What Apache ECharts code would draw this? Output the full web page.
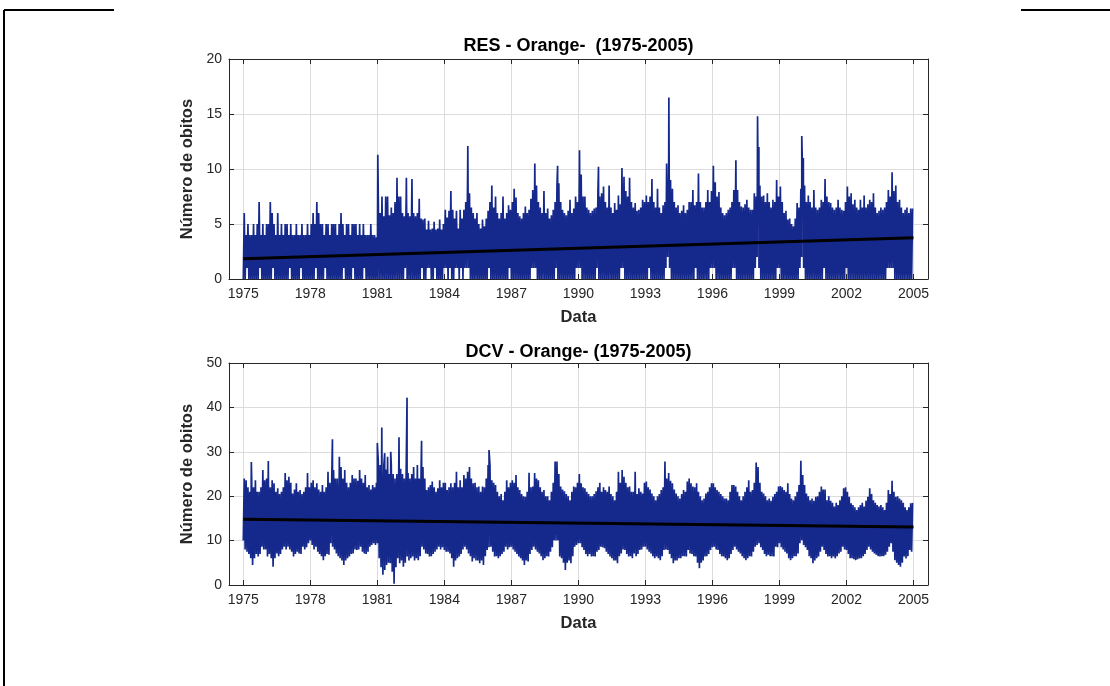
<!DOCTYPE html>
<html>
<head>
<meta charset="utf-8">
<title>RES / DCV - Orange (1975-2005)</title>
<script src="https://cdn.jsdelivr.net/npm/echarts@6/dist/echarts.min.js"></script>
<style>
  html, body { margin: 0; padding: 0; background: #fff; }
  #main { width: 1110px; height: 686px; }
</style>
</head>
<body>
<div id="main"></div>
<script>
// Monthly envelopes (Jan..Dec, one row per year 1975-2004).
const startYear = 1975;
const yearTicks = [1975, 1978, 1981, 1984, 1987, 1990, 1993, 1996, 1999, 2002, 2005];

const resHigh = [
  6,4,5,4,4,5,4,5,7,4,5,4,
  5,5,7,6,5,4,6,4,5,4,5,5,
  4,5,4,4,5,4,4,5,4,4,5,4,
  5,6,5,7,6,5,5,4,5,5,4,5,
  5,5,4,5,6,5,4,5,5,4,5,5,
  5,4,5,4,5,4,4,4,5,4,4,3.8,
  7.6,6,7.5,5.7,7.5,7.5,5.8,6.5,6,7,7.5,7.5,
  7.5,6,5.7,7.5,6,5.7,7.5,6,5.7,6,7.3,5.5,
  5.4,5.5,4.5,5.3,4.5,4.6,5.2,4.5,4.6,5.4,4.5,5,
  6.3,5.6,6.2,8,6.3,5.5,6.2,4.6,6.3,5.5,6.3,7,
  9.5,7.8,6.5,6,5.5,6,5,4.6,5.4,4.8,5.5,6.2,
  7,8.5,6.5,7.5,6,5.5,6,7.5,5.5,6,6.7,6.3,
  7,8.2,7.4,6,5.7,5.5,6,6.6,6,6.3,7.3,8.1,
  8.5,8.5,7,6.5,6,8,6,6.4,5.5,5.8,6.3,7,
  8.5,8.7,7,6.3,6,5.8,6.2,7.2,6,6.4,7.5,7,
  9,9.5,7.5,7.5,6.5,6.3,6,6.2,6.4,6.5,8,7.5,
  7.8,8.4,7,6.5,8.5,6.5,6,6.9,6.3,7.6,6.8,8.5,
  9.3,8,7.5,9.2,7,6.5,6.9,6.2,6.3,6.5,7.2,7,
  7.6,7,7.5,9.1,7,6.5,8.2,6.5,6,6.7,7,8.5,
  10.5,9,8.2,7,6.5,6.7,6,6.2,6.7,6,6.3,7,
  7,8.1,6.7,7,9.6,7,6.5,6.5,7,8.1,7,8,
  10.3,8.8,7.5,7.9,6.5,6,5.8,6,6.3,6.5,7,8.1,
  9,8.1,7,6.6,6.5,6.8,7.2,6.5,6.3,6.3,7.8,7.5,
  9.5,8.5,7.5,7.6,7,7.8,7,6.5,7.2,7,9,7.5,
  8.4,7,6,6.2,5.4,5.5,5,4.8,5.5,6.9,6.5,8.2,
  9,8.5,7,7.6,7,6.5,8.1,6.5,6.3,6.5,7.2,7,
  9.1,7.5,7,6.9,6.5,6.3,6.5,7.2,6.5,6.3,6.2,7,
  8.4,7.5,7.8,6.8,7.2,6.5,6.3,7.2,6.5,7.6,6.5,6.8,
  7.2,7,7.8,6.5,6,6.2,6.5,6.3,6.5,7,8.1,7.5,
  9.7,8,8.5,7,7.2,6.5,6,6.3,6.5,6,6.4,6.4
];

const resLow = [
  0,0,1,0,0,0,0,0,0,1,0,0,
  0,0,0,0,1,0,0,0,0,0,0,0,
  0,1,0,0,0,0,0,1,0,0,0,0,
  0,0,0,1,0,0,0,0,1,0,0,0,
  0,0,0,0,0,0,1,0,0,0,0,1,
  0,0,0,0,0,1,0,0,0,0,0,0,
  0,0,0,0,0,0,0,0,0,0,0,0,
  0,0,0,1,0,0,0,0,0,0,0,0,
  1,0,0,1,1,0,0,1,0,0,0,0,
  1,1,0,1,0,0,1,1,0,1,0,1,
  1,1,0,0,0,0,0,0,0,0,0,0,
  1,0,0,0,0,0,0,0,0,0,0,1,
  0,0,0,0,0,0,0,0,0,0,0,1,
  1,1,0,0,0,0,0,0,0,0,0,0,
  1,0,0,0,0,0,0,0,0,0,0,1,
  1,1,0,0,0,0,0,0,0,0,1,0,
  0,0,0,0,0,0,0,0,0,0,0,1,
  1,0,0,0,0,0,0,0,0,0,0,0,
  0,0,1,0,0,0,0,0,0,0,0,1,
  2,1,0,0,0,0,0,0,0,0,0,0,
  0,0,0,1,0,0,0,0,0,0,0,1,
  1,1,0,0,0,0,0,0,0,0,0,1,
  1,0,0,0,0,0,0,0,0,0,0,1,
  2,1,0,0,0,0,0,0,0,0,0,1,
  1,0,0,0,0,0,0,0,0,0,0,1,
  2,1,0,0,0,0,0,0,0,0,0,0,
  1,0,0,0,0,0,0,0,0,0,0,0,
  1,0,0,0,0,0,0,0,0,0,0,0,
  0,0,0,0,0,0,0,0,0,0,1,1,
  1,1,0,0,0,0,0,0,0,0,0,0
];

// isolated daily peaks [year, value]
const resSpikes = [
  [1981.02, 11.3], [1981.88, 9.2], [1982.30, 9.2], [1982.55, 9.1],
  [1985.05, 12.1], [1988.05, 10.5], [1989.07, 10.3], [1990.05, 11.7],
  [1990.90, 10.2], [1991.95, 10.1], [1993.95, 10.5], [1994.05, 16.5],
  [1997.05, 10.8], [1998.02, 14.8], [1998.08, 12.0], [2000.00, 13.0],
  [2000.07, 11.0]
];

const dcvHigh = [
  24,23.6,22,21,24,22,23.6,21,21,22,25.9,23.6,
  24,23,22,23.6,22.9,21,21.8,20.5,21,22,25.2,23.6,
  24.4,23,20.6,21.5,22.9,21,21.4,20.5,21,22,25.2,22,
  23,23.6,22,22.9,21.5,21,22.5,21,22,25.5,23,23.6,
  25.9,24,24,23,26.6,24,25.9,23,22,23,24.8,24,
  24,23.5,25.9,24,23,24.8,22,22.5,21.5,22.5,22,23,
  28,27,26,27,26,28.9,25,27,25,24,25,26,
  26.2,25,24,26,25.2,24,25,26.6,24,27,24,26,
  26.6,24,21.4,22,22.5,23.3,22,21,21.8,23.6,22,23,
  23,21.4,22,22.9,22,23,25.5,22,23.6,22,24.8,24,
  25.5,26.6,24,22.9,23,22,22.2,21,22.2,22,24,27,
  27,23.6,23,22.5,21,20,20.5,19.1,21,23.6,22,23,
  23.6,23,24.8,22,21.4,20.5,20,19.9,21,25.3,22,22.2,
  25.2,24,23.6,22,21,21.4,20,20,19.1,21,23,27.8,
  27.8,25,22.2,21.5,21.1,20.5,20,19.1,21,22.2,22,23,
  25,22.9,22,21.8,21,20.5,20,20,20.5,21.1,22,23,
  21,22,21.4,21,22.2,20.5,20,19.1,21,25.5,23,25.9,
  24.4,23,22,22.2,21,21,25.5,20.5,21.8,21,20.6,23,
  23.3,22,21.5,20.6,20,19.1,20,20.5,21.4,22,27.8,24,
  25.2,23.5,22.9,21.5,20.6,20,19.5,20.5,21.4,21,23.3,24,
  22.9,22.2,22,22.9,21,20,19.1,19.5,20.6,21,22,22.9,
  22.9,22,21.4,21,20.5,20,19.5,19.5,19.1,21,22.5,22.5,
  22.2,21,20,19.1,20,21,22,23.6,21,21.4,23,27.6,
  26.6,23,21,20.6,20,19.1,19.5,19,19.9,20.5,21,22.2,
  22.3,22,21.4,21,22.9,20.5,19.5,19.1,20,21,22.5,28,
  24.8,22.5,20.6,20,19.1,19.5,19,19.9,20,21,22.2,21.5,
  21.5,19.1,20,19,18.5,17.7,18.5,18,19.1,20,21.8,22,
  21,19.9,18.4,18,17.5,16.9,17.5,18,18.5,17.7,19,19.9,
  21.8,20.5,19.1,18.5,18,17.7,18,17.5,16.9,18.5,21.4,20.5,
  23.5,21,19.9,20,19.5,19.1,18.5,17.5,16.9,17.5,18.4,18.5
];

const dcvLow = [
  10,8,7.5,7,6,4.5,6,7,6.4,7,8.6,8,
  8,6.4,7,6,4.1,6,7.1,6.5,7,8,8.6,8,
  8.6,8,7.5,6.4,7,7.5,7.1,7,8.6,8,8.5,9.4,
  10,9,8,8.6,7.5,7,6.5,5.6,6.5,7,6.8,9.4,
  8.6,8,7.1,6.5,6,5.5,4.5,5.5,6,6.4,7,7.1,
  8,7.9,8,8.6,7.5,7.1,7,7.5,8.6,9,9.4,9,
  9.4,6,4,2.3,3.4,4.5,5,4.9,3,0.3,4,6,
  4.9,5.5,4.1,5,6.4,5.5,6,6.4,5.5,6,5.6,6.5,
  8.6,8,7.1,7,6.4,6.5,7,7.5,8,8.6,8,8.5,
  7.9,7.5,7.5,7.1,6,4.1,5.5,6,6.4,7,8,8.6,
  8,7.1,6.5,5.3,6,5.5,5.5,4.9,5.5,4.5,6.5,7.9,
  8.5,8.6,7.5,6.4,6.5,6,6.5,7,7.5,8.6,8,8.5,
  8.6,8,7.5,7,6.4,6,5.5,4.5,5.5,5.3,7,7.9,
  8.6,8,7.5,7.1,6.5,5.6,6,6.5,6.4,7.5,8.5,10.1,
  10,10.1,6.4,6,5,3.4,5,5.5,4.9,6.5,8.6,9,
  9.4,9.4,8.5,7.9,7,6.5,7,6.4,6.5,6.4,7.5,7.9,
  8.6,8.5,8.3,7.5,7,6.4,6,5.5,5.5,4.9,6.5,7.1,
  8,7.9,7,6.4,6.5,6,7.1,6.5,7,7.9,8,8.6,
  8.6,8,7.5,7.1,6.5,6,6.4,6,5.6,6.5,7.9,8,
  7.9,7,6,4.9,5.5,5.5,6,6,6.5,6.5,6.4,7.9,
  7.1,7,6.5,6.4,5,3.8,5,5.5,6.4,6.5,7,7.9,
  8.5,8.6,8,7.9,7,6.5,6.4,6,5.6,6,7,7.9,
  8.6,8,7.5,7.1,6.5,6,5.6,6,6.5,6.4,7.5,8.6,
  9,9.4,8.5,7.9,7,6.5,6.8,6.5,6.5,6.4,8.6,8.5,
  9.4,8.5,8,7.5,7.1,6,5.6,6,6.5,6.5,7.1,9.4,
  10.1,9,8.5,7.9,6.5,6,4.9,5.5,6,6.4,7.5,8.6,
  7.9,7,6.4,6.5,6,6.4,6,6.5,7.1,7.5,8.6,8,
  7.9,7,6,6,5.8,5.6,5.8,6,6,6.5,7,7.9,
  8.6,8,7.5,7.1,6.8,6.5,6.4,6.5,6.5,6.8,7.5,8.6,
  9.4,7.5,5.6,5,4.5,4.1,5,6.4,6,6.5,7.9,7.5
];

const dcvSpikes = [
  [1975.36, 27.7], [1976.12, 27.9], [1978.99, 32.8], [1979.30, 28.9],
  [1981.00, 32.0], [1981.20, 35.5], [1981.33, 29.7], [1981.60, 30.0],
  [1981.97, 33.3], [1982.33, 42.2], [1982.98, 32.5], [1986.00, 30.4]
];

// linear trend end points [year, value]
const resTrend = [[1975, 1.85], [2005, 3.76]];
const dcvTrend = [[1975, 14.8], [2005, 13.05]];

const FONT = '"Liberation Sans", Arial, Helvetica, sans-serif';
const TXT = '#262626';
const XMIN = 1974.36, XMAX = 2005.65;

// line going down to the month's low then up to its high, plus the lone peaks
function buildSeries(low, high, spikes) {
    let pts = [];
    for (let m = 0; m < low.length; m++) {
        let t = startYear + m / 12;
        pts.push([t, low[m]]);
        pts.push([t + 1 / 24, high[m]]);
    }
    spikes.forEach(function (s) { pts.push([s[0], s[1]]); });
    pts.sort(function (a, b) { return a[0] - b[0]; });
    return pts;
}

function xAxes(g) {
    return [{
        type: 'value', gridIndex: g, min: XMIN, max: XMAX, position: 'bottom',
        name: 'Data', nameLocation: 'middle', nameGap: 30,
        nameTextStyle: { fontFamily: FONT, fontSize: 16.5, fontWeight: 'bold', color: TXT },
        axisLine: { show: true, onZero: false, lineStyle: { color: TXT, width: 1 } },
        axisTick: { show: true, inside: true, length: 5, customValues: yearTicks, lineStyle: { color: TXT } },
        axisLabel: { customValues: yearTicks, fontFamily: FONT, fontSize: 14, color: TXT, margin: 8,
                     formatter: function (v) { return String(v); } },
        splitLine: { show: true, lineStyle: { color: '#dcdcdc', width: 1 } }
    }, {
        type: 'value', gridIndex: g, min: XMIN, max: XMAX, position: 'top',
        axisLine: { show: true, onZero: false, lineStyle: { color: TXT, width: 1 } },
        axisTick: { show: true, inside: true, length: 5, customValues: yearTicks, lineStyle: { color: TXT } },
        axisLabel: { show: false },
        splitLine: { show: false }
    }];
}

function yAxes(g, max, step) {
    return [{
        type: 'value', gridIndex: g, min: 0, max: max, interval: step, position: 'left',
        name: 'Número de obitos', nameLocation: 'middle', nameGap: 31,
        nameTextStyle: { fontFamily: FONT, fontSize: 16.5, fontWeight: 'bold', color: TXT },
        axisLine: { show: true, onZero: false, lineStyle: { color: TXT, width: 1 } },
        axisTick: { show: true, inside: true, length: 5, lineStyle: { color: TXT } },
        axisLabel: { fontFamily: FONT, fontSize: 14, color: TXT, margin: 7 },
        splitLine: { show: true, lineStyle: { color: '#dcdcdc', width: 1 } }
    }, {
        type: 'value', gridIndex: g, min: 0, max: max, interval: step, position: 'right',
        axisLine: { show: true, onZero: false, lineStyle: { color: TXT, width: 1 } },
        axisTick: { show: true, inside: true, length: 5, lineStyle: { color: TXT } },
        axisLabel: { show: false },
        splitLine: { show: false }
    }];
}

function dataSeries(xi, yi, pts) {
    return {
        type: 'line', xAxisIndex: xi, yAxisIndex: yi, data: pts,
        symbol: 'none', silent: true, animation: false, z: 2,
        lineStyle: { color: '#15298c', width: 1.7 }
    };
}

function trendSeries(xi, yi, pts) {
    return {
        type: 'line', xAxisIndex: xi, yAxisIndex: yi, data: pts,
        symbol: 'none', silent: true, animation: false, z: 3,
        lineStyle: { color: '#000', width: 3 }
    };
}

function createPage() {
    let chart = echarts.init(document.getElementById('main'), null, { renderer: 'canvas' });

    let option = {
        animation: false,
        backgroundColor: '#fff',
        grid: [
            { left: 229, top: 59, width: 699, height: 220 },
            { left: 229, top: 363, width: 699, height: 222 }
        ],
        xAxis: xAxes(0).concat(xAxes(1)),
        yAxis: yAxes(0, 20, 5).concat(yAxes(1, 50, 10)),
        series: [
            dataSeries(0, 0, buildSeries(resLow, resHigh, resSpikes)),
            trendSeries(0, 0, resTrend),
            dataSeries(2, 2, buildSeries(dcvLow, dcvHigh, dcvSpikes)),
            trendSeries(2, 2, dcvTrend)
        ],
        graphic: [
            // page frame
            { type: 'line', shape: { x1: 4, y1: 10, x2: 4, y2: 686 }, style: { stroke: '#000', lineWidth: 2 } },
            { type: 'line', shape: { x1: 4, y1: 10, x2: 114, y2: 10 }, style: { stroke: '#000', lineWidth: 2 } },
            { type: 'line', shape: { x1: 1021, y1: 10, x2: 1110, y2: 10 }, style: { stroke: '#000', lineWidth: 2 } },
            // subplot titles
            { type: 'text', x: 578.5, y: 46,
              style: { text: 'RES - Orange-  (1975-2005)', font: 'bold 18px ' + FONT, fill: '#000',
                       textAlign: 'center', textVerticalAlign: 'middle' } },
            { type: 'text', x: 578.5, y: 352,
              style: { text: 'DCV - Orange- (1975-2005)', font: 'bold 18px ' + FONT, fill: '#000',
                       textAlign: 'center', textVerticalAlign: 'middle' } }
        ]
    };

    chart.setOption(option);
}

createPage();
</script>
</body>
</html>
